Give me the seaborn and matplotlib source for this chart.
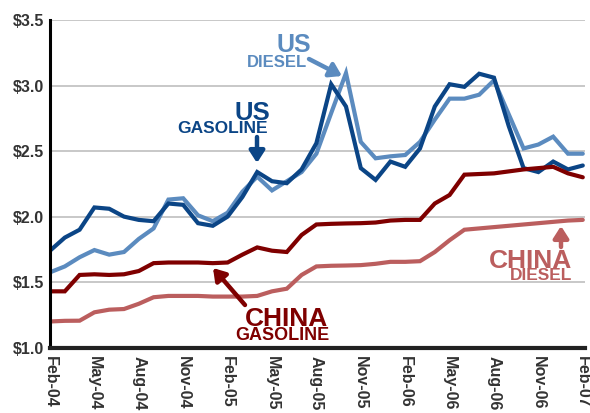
import matplotlib
matplotlib.use("Agg")
import matplotlib.pyplot as plt
import seaborn as sns
import pandas as pd
import numpy as np

months = ["Feb-04", "Mar-04", "Apr-04", "May-04", "Jun-04", "Jul-04", "Aug-04", "Sep-04",
          "Oct-04", "Nov-04", "Dec-04", "Jan-05", "Feb-05", "Mar-05", "Apr-05", "May-05",
          "Jun-05", "Jul-05", "Aug-05", "Sep-05", "Oct-05", "Nov-05", "Dec-05", "Jan-06",
          "Feb-06", "Mar-06", "Apr-06", "May-06", "Jun-06", "Jul-06", "Aug-06", "Sep-06",
          "Oct-06", "Nov-06", "Dec-06", "Jan-07", "Feb-07"]

us_gasoline = [1.74, 1.84, 1.90, 2.07, 2.06, 2.00, 1.975, 1.965, 2.10, 2.09, 1.95, 1.93,
               2.00, 2.15, 2.34, 2.27, 2.255, 2.36, 2.56, 3.01, 2.84, 2.37, 2.28, 2.42,
               2.38, 2.52, 2.84, 3.01, 2.99, 3.09, 3.06, 2.69, 2.37, 2.34, 2.42, 2.36, 2.39]

us_diesel = [1.575, 1.62, 1.69, 1.745, 1.71, 1.73, 1.83, 1.91, 2.13, 2.14, 2.01, 1.965,
             2.03, 2.19, 2.305, 2.20, 2.27, 2.34, 2.48, 2.79, 3.095, 2.57, 2.445, 2.46,
             2.47, 2.57, 2.74, 2.90, 2.90, 2.93, 3.04, 2.78, 2.52, 2.55, 2.61, 2.48, 2.48]

china_gasoline = [1.43, 1.43, 1.555, 1.56, 1.555, 1.56, 1.585, 1.645, 1.65, 1.65, 1.65, 1.645,
                  1.65, 1.71, 1.765, 1.74, 1.73, 1.86, 1.94, 1.945, 1.948, 1.95, 1.955, 1.97,
                  1.975, 1.975, 2.10, 2.165, 2.32, 2.325, 2.33, 2.345, 2.36, 2.37, 2.38, 2.33, 2.30]

china_diesel = [1.20, 1.205, 1.206, 1.27, 1.29, 1.295, 1.335, 1.385, 1.395, 1.395, 1.395, 1.39,
                1.39, 1.39, 1.395, 1.43, 1.45, 1.555, 1.62, 1.625, 1.627, 1.63, 1.64, 1.655,
                1.655, 1.66, 1.73, 1.82, 1.90, 1.91, 1.92, 1.93, 1.94, 1.95, 1.96, 1.97, 1.975]

series_names = ["US Diesel", "US Gasoline", "China Diesel", "China Gasoline"]
series_values = [us_diesel, us_gasoline, china_diesel, china_gasoline]
palette = {"US Gasoline": "#0b4586", "US Diesel": "#5b8bbf",
           "China Gasoline": "#7f0000", "China Diesel": "#bb5e5e"}

yticks = [1.0, 1.5, 2.0, 2.5, 3.0, 3.5]
ytick_labels = ["$1.0", "$1.5", "$2.0", "$2.5", "$3.0", "$3.5"]

rows = []
for name, vals in zip(series_names, series_values):
    for i, v in enumerate(vals):
        rows.append({"idx": i, "month": months[i], "price": v, "series": name})
df = pd.DataFrame(rows)

sns.set_theme(style="white")
plt.rcParams["font.family"] = ["Liberation Sans", "DejaVu Sans"]
plt.rcParams["font.weight"] = "bold"

fig = plt.figure(figsize=(5.9, 4.13), dpi=100)
ax = fig.add_axes([50 / 590, (413 - 347.7) / 413, 535 / 590, (347.7 - 20) / 413])

sns.lineplot(data=df, x="idx", y="price", hue="series", hue_order=series_names,
             palette=palette, linewidth=3.0, legend=False, ax=ax, sort=False,
             solid_joinstyle="miter")

ax.set_ylim(1.0, 3.5)
ax.set_xlim(0, 36.15)
ax.set_yticks(yticks)
ax.set_yticklabels(ytick_labels, fontsize=11.5, fontweight="bold", color="#333333")
tick_idx = list(range(0, len(months), 3))
ax.set_xticks(tick_idx)
ax.set_xticklabels([months[i] for i in tick_idx], rotation=270, fontsize=11.5,
                   fontweight="bold", color="#333333", va="top", ha="center")
ax.tick_params(axis="both", length=0)
ax.tick_params(axis="x", pad=6)
ax.tick_params(axis="y", pad=4)
ax.set_xlabel("")
ax.set_ylabel("")
for y in yticks[1:]:
    ax.axhline(y, color="#c4c4c4", linewidth=1.3, zorder=0)

for s in ["top", "right"]:
    ax.spines[s].set_visible(False)
ax.spines["left"].set_color("#000000")
ax.spines["left"].set_linewidth(2.2)
ax.spines["bottom"].set_color("#222222")
ax.spines["bottom"].set_linewidth(3.0)
ax.spines["bottom"].set_zorder(5)


def label(x, y, text, size, color, ha="right"):
    fig.text(x / 590, 1 - y / 413, text, fontsize=size, fontweight="bold", color=color,
             ha=ha, va="baseline")


def arrow(x0, y0, x1, y1, color):
    fig.add_artist(matplotlib.patches.FancyArrowPatch(
        (x0 / 590, 1 - y0 / 413), (x1 / 590, 1 - y1 / 413),
        transform=fig.transFigure, arrowstyle="-|>,head_length=7,head_width=4.5",
        color=color, linewidth=3.2, mutation_scale=1, shrinkA=0, shrinkB=0))


# US gasoline
label(270, 119.5, "US", 18.5, palette["US Gasoline"])
label(268, 133, "GASOLINE", 12.5, palette["US Gasoline"])
arrow(257, 137, 257, 163, palette["US Gasoline"])

# US diesel
label(311, 52.5, "US", 18, palette["US Diesel"])
label(307, 67, "DIESEL", 12, palette["US Diesel"])
arrow(309, 59, 342, 76, palette["US Diesel"])

# China gasoline
label(328, 326, "CHINA", 19, palette["China Gasoline"])
label(329, 339.5, "GASOLINE", 13, palette["China Gasoline"])
arrow(245, 305, 213, 268, palette["China Gasoline"])

# China diesel
label(572, 267.5, "CHINA", 19, palette["China Diesel"])
label(572, 279.5, "DIESEL", 12.5, palette["China Diesel"])
arrow(561, 247, 561, 226, palette["China Diesel"])

fig.savefig("out.png", dpi=100)
